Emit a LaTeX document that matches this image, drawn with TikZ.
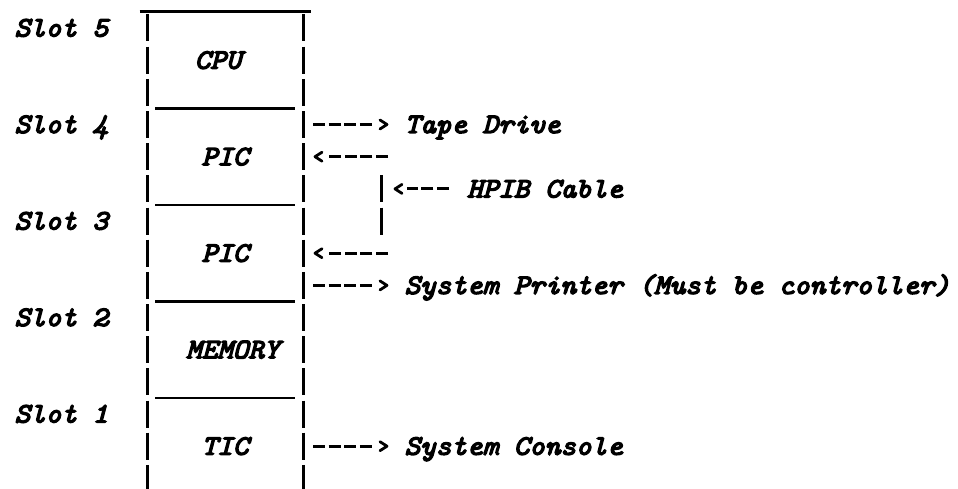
\documentclass[tikz,border=0pt]{standalone}
\usepackage{fontspec}
\newfontfamily\twfont{lmmono10-italic.otf}[FakeBold=5,FakeStretch=1.06]
\usetikzlibrary{arrows.meta}

\pgfdeclarearrow{
  name = Chev,
  parameters = {\the\pgfarrowlength,\the\pgfarrowwidth},
  setup code = {
    \pgfarrowssettipend{\pgfarrowlength}
    \pgfarrowssetbackend{0pt}
    \pgfarrowssetlineend{-5pt}
    \pgfarrowssavethe\pgfarrowlength
    \pgfarrowssavethe\pgfarrowwidth
  },
  drawing code = {
    \pgfsetdash{}{0pt}
    \pgfsetroundjoin
    \pgfsetroundcap
    \pgfpathmoveto{\pgfqpoint{0pt}{0.5\pgfarrowwidth}}
    \pgfpathlineto{\pgfqpoint{\pgfarrowlength}{0pt}}
    \pgfpathlineto{\pgfqpoint{0pt}{-0.5\pgfarrowwidth}}
    \pgfusepathqstroke
  },
  defaults = {length=7pt, width=9pt}
}

\tikzset{
  tt/.style={font=\twfont\fontsize{28pt}{28pt}\selectfont, inner sep=0pt, anchor=base west},
  ttc/.style={tt, anchor=base},
  slotbar/.style={line width=3pt, dash pattern=on 27pt off 5.17pt},
  divider/.style={line width=2.7pt},
  cable/.style={line width=2.8pt, dash pattern=on 12.2pt off 3.4pt, -{Chev[length=7pt,width=9pt]}},
}

\begin{document}
\begin{tikzpicture}[x=1pt,y=-1pt]
\useasboundingbox (0,0) rectangle (958,489);
\fill[white] (0,0) rectangle (958,489);

% cage outline
\coordinate (ltop) at (147,14.5);
\coordinate (lbot) at (147,489);
\coordinate (rtop) at (303,14.5);
\coordinate (rbot) at (303,489);
\draw[line width=3.2pt] (139.5,11.8) -- (311,11.8);
\draw[divider] (155,108.3) -- (295,108.3);
\draw[divider] (155,204.9) -- (295,204.9);
\draw[divider] (155,301.4) -- (295,301.4);
\draw[divider] (155,397.9) -- (295,397.9);
\draw[slotbar] (ltop) -- (lbot);
\draw[slotbar] (rtop) -- (rbot);

% slot labels
\node[tt] (slot5) at (14.4,36.5) {Slot 5};
\node[tt] (slot4) at (14.4,133) {Slot 4};
\node[tt] (slot3) at (14.4,229.5) {Slot 3};
\node[tt] (slot2) at (14.4,326) {Slot 2};
\node[tt] (slot1) at (14.4,422.5) {Slot 1};

% cards
\node[ttc] (cpu) at (218,68.7) {CPU};
\node[ttc] (pic4) at (225,165.2) {PIC};
\node[ttc] (pic3) at (225,261.7) {PIC};
\node[ttc] (mem) at (232.8,358.2) {MEMORY};
\node[ttc] (tic) at (225,454.7) {TIC};

% devices
\node[tt] (tape) at (404.4,133) {Tape Drive};
\node[tt] (hpib) at (466.8,197.4) {HPIB Cable};
\node[tt] (printer) at (404.4,293.9) {System Printer (Must be controller)};
\node[tt] (console) at (404.4,454.7) {System Console};

% connection points
\coordinate (b3) at (303,124.5);
\coordinate (b4) at (303,156.7);
\coordinate (b7) at (303,253.2);
\coordinate (b8) at (303,285.4);
\coordinate (b13) at (303,446.2);
\coordinate (c4) at (388,156.7);
\coordinate (c7) at (388,253.2);
\coordinate (h5) at (381,188.9);
\coordinate (htop) at (381,175.4);
\coordinate (hbot) at (381,234.5);

% connectors
\draw[cable, shorten <=10pt, shorten >=17.4pt] (b3) -- (b3 -| tape.west);
\draw[cable, shorten >=12pt] (c4) -- (b4);
\draw[slotbar] (htop) -- (hbot);
\draw[cable, shorten <=17.8pt, shorten >=14pt] (h5 -| hpib.west) -- (h5);
\draw[cable, shorten >=12pt] (c7) -- (b7);
\draw[cable, shorten <=10pt, shorten >=17.4pt] (b8) -- (b8 -| printer.west);
\draw[cable, shorten <=10pt, shorten >=17.4pt] (b13) -- (b13 -| console.west);
\end{tikzpicture}
\end{document}
